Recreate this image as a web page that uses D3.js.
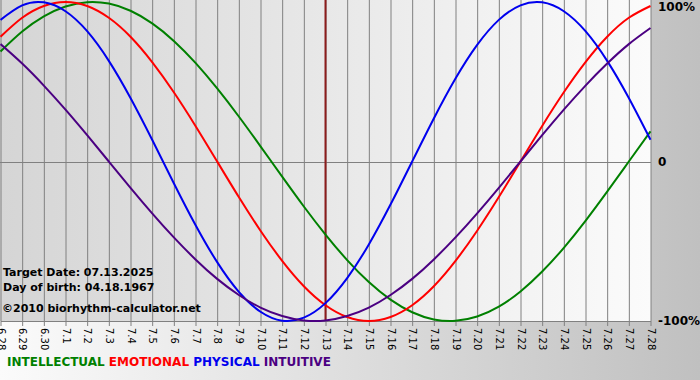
<!DOCTYPE html>
<html>
<head>
<meta charset="utf-8">
<script src="https://cdn.jsdelivr.net/npm/d3@7"></script>
<style>
  body { margin: 0; }
  svg { display: block; font-family: "DejaVu Sans", Verdana, sans-serif; }
</style>
</head>
<body>
<svg id="chart" width="700" height="380"></svg>
<script>
// days shown on the x axis
var days = ["6.28", "6.29", "6.30", "7.1", "7.2", "7.3", "7.4", "7.5", "7.6", "7.7", "7.8", "7.9",
  "7.10", "7.11", "7.12", "7.13", "7.14", "7.15", "7.16", "7.17", "7.18", "7.19", "7.20",
  "7.21", "7.22", "7.23", "7.24", "7.25", "7.26", "7.27", "7.28"];

// values in %, one per day
var intellectual = [69.0, 81.5, 91.0, 97.2, 99.9, 99.0, 94.5, 86.6, 75.6, 61.8, 45.8, 28.2, 9.5,
  -9.5, -28.2, -45.8, -61.8, -75.6, -86.6, -94.5, -99.0, -99.9, -97.2, -91.0, -81.5, -69.0,
  -54.1, -37.2, -18.9, 0, 18.9];
var emotional = [78.2, 90.1, 97.5, 100, 97.5, 90.1, 78.2, 62.3, 43.4, 22.3, 0, -22.3, -43.4,
  -62.3, -78.2, -90.1, -97.5, -100, -97.5, -90.1, -78.2, -62.3, -43.4, -22.3, 0, 22.3, 43.4,
  62.3, 78.2, 90.1, 97.5];
var physical = [88.8, 97.9, 99.8, 94.2, 81.7, 63.1, 39.8, 13.6, -13.6, -39.8, -63.1, -81.7,
  -94.2, -99.8, -97.9, -88.8, -73.1, -52.0, -27.0, 0, 27.0, 52.0, 73.1, 88.8, 97.9, 99.8, 94.2,
  81.7, 63.1, 39.8, 13.6];
var intuitive = [73.6, 61.4, 47.6, 32.5, 16.5, 0, -16.5, -32.5, -47.6, -61.4, -73.6, -83.7,
  -91.6, -96.9, -99.7, -99.7, -96.9, -91.6, -83.7, -73.6, -61.4, -47.6, -32.5, -16.5, 0, 16.5,
  32.5, 47.6, 61.4, 73.6, 83.7];

var yTicks = [100, 0, -100];
var yTickLabels = ["100%", "0", "-100%"];
var targetDay = "7.13";

var series = [
  { name: "INTELLECTUAL", values: intellectual, color: "#008000" },
  { name: "EMOTIONAL", values: emotional, color: "#ff0000" },
  { name: "PHYSICAL", values: physical, color: "#0000ee" },
  { name: "INTUITIVE", values: intuitive, color: "#4b0082" }
];

var infoLines = ["Target Date: 07.13.2025", "Day of birth: 04.18.1967"];
var copyright = "\u00a92010 biorhythm-calculator.net";

var svg = d3.select("#chart"),
  plotW = 651,
  plotH = 321;

var defs = svg.append("defs");
var bg = defs.append("linearGradient").attr("id", "bg");
bg.append("stop").attr("offset", "0%").attr("stop-color", "#fbfbfb");
bg.append("stop").attr("offset", "100%").attr("stop-color", "#c0c0c0");
var pg = defs.append("linearGradient").attr("id", "plotbg");
pg.append("stop").attr("offset", "0%").attr("stop-color", "#d5d5d5");
pg.append("stop").attr("offset", "100%").attr("stop-color", "#fbfbfb");

svg.append("rect").attr("width", 700).attr("height", 380).attr("fill", "url(#bg)");
svg.append("rect").attr("width", plotW).attr("height", plotH).attr("fill", "url(#plotbg)");

var x = d3.scalePoint().domain(days).range([0.5, 650.5]);
var y = d3.scaleLinear().domain([-100, 100]).range([321, 2]);

// vertical grid + ticks + rotated labels
var xAxis = svg.append("g")
  .attr("transform", "translate(0," + plotH + ")")
  .call(d3.axisBottom(x).tickSize(5).tickSizeOuter(0));
xAxis.select(".domain").attr("stroke", "#808080");
xAxis.selectAll(".tick line").attr("stroke", "#808080").attr("y1", -plotH);
xAxis.selectAll(".tick text")
  .attr("transform", "rotate(90)")
  .attr("x", 7)
  .attr("y", 0)
  .attr("dy", "0.35em")
  .attr("text-anchor", "start")
  .attr("fill", "#000")
  .style("font-size", "10px")
  .style("font-family", "DejaVu Sans, Verdana, sans-serif");

// zero line
svg.append("line")
  .attr("x1", 0).attr("x2", plotW)
  .attr("y1", Math.round(y(0)) + 0.5).attr("y2", Math.round(y(0)) + 0.5)
  .attr("stroke", "#808080");

// target date
svg.append("line")
  .attr("x1", x(targetDay)).attr("x2", x(targetDay))
  .attr("y1", 0).attr("y2", plotH)
  .attr("stroke", "#8b1c1c").attr("stroke-width", 2);

// right labels
svg.selectAll(".ylab")
  .data(yTicks)
  .enter()
  .append("text")
  .attr("class", "ylab")
  .attr("x", 658)
  .attr("y", d => Math.min(Math.max(y(d), 7), 322))
  .attr("dy", "0.35em")
  .style("font-size", "12px")
  .style("font-weight", "bold")
  .text((d, i) => yTickLabels[i]);

var line = d3.line()
  .x((d, i) => x(days[i]))
  .y(d => y(d))
  .curve(d3.curveNatural);

svg.selectAll(".curve")
  .data(series)
  .enter()
  .append("path")
  .attr("class", "curve")
  .attr("fill", "none")
  .attr("stroke", d => d.color)
  .attr("stroke-width", 2)
  .attr("d", d => line(d.values));

// info text
var info = svg.append("g").style("font-size", "11px").style("font-weight", "bold");
info.selectAll("text")
  .data(infoLines)
  .enter()
  .append("text")
  .attr("x", 3)
  .attr("y", (d, i) => 276 + i * 15)
  .text(d => d);
info.append("text").attr("x", 2).attr("y", 312).text(copyright);

// legend
var legend = svg.append("text")
  .attr("x", 7)
  .attr("y", 366)
  .style("font-size", "12px")
  .style("font-weight", "bold");
series.forEach(function (s, i) {
  legend.append("tspan").attr("fill", s.color).text((i ? " " : "") + s.name);
});
</script>
</body>
</html>
